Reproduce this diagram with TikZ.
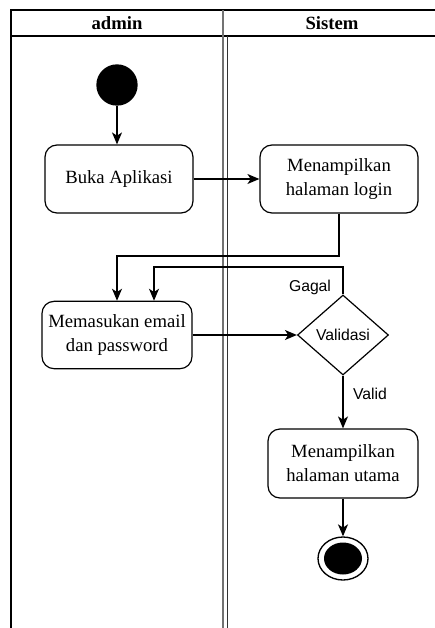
\documentclass[tikz,border=0pt]{standalone}
\usepackage{fontspec}
\setmainfont{Liberation Serif}
\newfontfamily\lblfont{Liberation Sans}
\usetikzlibrary{arrows.meta,shapes.geometric}

\begin{document}
\begin{tikzpicture}[x=0.75pt,y=0.75pt,yscale=-1,xscale=1,
	act/.style={draw,rounded corners=9pt,line width=0.9pt,align=center,inner sep=0pt,font=\fontsize{14}{18}\selectfont},
	flow/.style={line width=1pt,-{Stealth[length=9pt,width=7.5pt,inset=2.5pt]}},
	lbl/.style={inner sep=0.75pt,font=\lblfont\fontsize{11.8}{14}\selectfont}]
	\useasboundingbox (0,0) rectangle (435,628);

	%Swimlane frame
	\draw[line width=1pt] (11,628) -- (11,10) -- (435,10) ;
	\draw[line width=1pt] (11,36) -- (435,36) ;
	%Lane dividers
	\draw[line width=1.2pt,black!55] (223,10) -- (223,628) ;
	\draw[line width=1pt,black!80] (227.7,36) -- (227.7,628) ;
	% Lane titles
	\node[font=\bfseries\fontsize{14}{16}\selectfont] (lanea) at (117,23) {admin};
	\node[font=\bfseries\fontsize{14}{16}\selectfont] (laneb) at (332,23) {Sistem};

	%Shape: start state
	\node[circle,fill=black,inner sep=0pt,minimum size=31pt] (start) at (117,85) {};
	% Activities
	\node[act,minimum width=111pt,minimum height=51pt] (buka) at (119,179) {Buka Aplikasi};
	\node[act,minimum width=118.5pt,minimum height=51pt] (login) at (339,179) {Menampilkan\\halaman login};
	\node[act,minimum width=112.5pt,minimum height=50.5pt] (input) at (117,335) {Memasukan email\\dan password};
	\node[act,minimum width=112.5pt,minimum height=51.75pt] (utama) at (343,463.5) {Menampilkan\\halaman utama};
	%Shape: decision
	\node[diamond,draw,line width=0.9pt,inner sep=0pt,aspect=1.14,minimum width=68.25pt,minimum height=60pt,font=\lblfont\fontsize{11.8}{14}\selectfont] (valid) at (343,335) {Validasi};
	%Shape: end state
	\node[ellipse,draw,line width=1pt,minimum width=37.5pt,minimum height=32.25pt,
		path picture={\fill (path picture bounding box.center) ellipse (14.25pt and 12pt);}] (end) at (343,558.5) {};

	% Bends
	\coordinate (bendlogin) at (339,256) ;
	\coordinate (bendgagal) at (154,267) ;

	%Connectors
	\draw[flow] (start) -- (start |- buka.north) ;
	\draw[flow] (buka) -- (login) ;
	\draw[flow] (login.south) -- (bendlogin) -| (input.north) ;
	\draw[flow] (input) -- (valid) ;
	\draw[flow] (valid.north) |- (bendgagal) -- (bendgagal |- input.north) ;
	\draw[flow] (valid) -- (utama) ;
	\draw[flow] (utama) -- (end) ;

	% Text Node
	\node[lbl] (gagal) at (310,287) {Gagal};
	% Text Node
	\node[lbl] (validlbl) at (370,394) {Valid};
\end{tikzpicture}
\end{document}
